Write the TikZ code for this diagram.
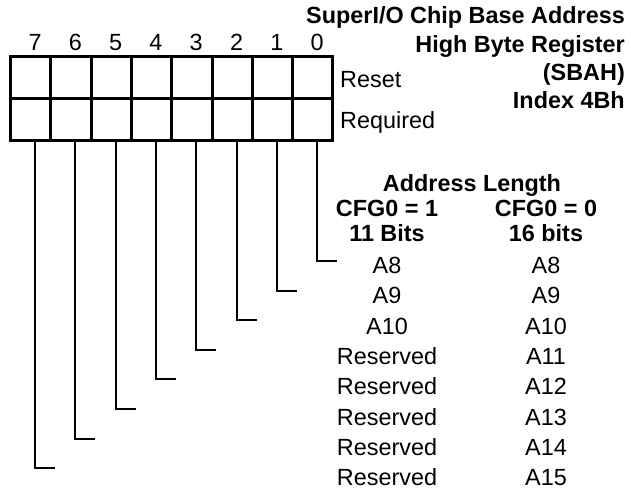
\documentclass[tikz,border=0pt]{standalone}
\usepackage{fontspec}
\setmainfont{Liberation Sans}
\usepackage{tikz}

\begin{document}
\begin{tikzpicture}[x=1pt, y=-1pt,
	every node/.style={font=\fontsize{23.4}{28}\selectfont, inner sep=0},
	head/.style={font=\fontsize{23.4}{28}\selectfont\bfseries},
	cell/.style={draw, line width=3pt, minimum width=40.3pt, minimum height=42pt, outer sep=0},
	lead/.style={line width=2pt}]
	\useasboundingbox (0, 0) rectangle (631, 497);
	\foreach \b in {0,...,7} {
		\pgfmathsetmacro{\cx}{10.5 + (7.5 - \b)*40.3}
		\pgfmathsetmacro{\lx}{\cx + 4.4}
		\node [cell] (r\b) at (\cx, 78) {};
		\node [cell] (q\b) at (\cx, 120) {};
		\node (n\b) at (\lx, 50.7) [anchor=base] {\b};
		\coordinate (f\b) at (\lx + 20, {261 + 29.6*\b});
		\draw [lead] ([xshift=4.4pt]q\b.south) |- (f\b);
	}
	\node (reset) at (340, 88) [anchor=base west] {Reset};
	\node (req) at (340, 128.5) [anchor=base west] {Required};
	\node (t1) at (625, 24) [head, anchor=base east] {SuperI/O Chip Base Address};
	\node (t2) at (625, 52.3) [head, anchor=base east] {High Byte Register};
	\node (t3) at (625, 80.6) [head, anchor=base east] {(SBAH)};
	\node (t4) at (625, 109) [head, anchor=base east] {Index 4Bh};
	\node (len) at (472, 191) [head, anchor=base] {Address Length};
	\node (cfga) at (387, 216) [head, anchor=base] {CFG0 = 1};
	\node (cfgb) at (546, 216) [head, anchor=base] {CFG0 = 0};
	\node (bita) at (387, 241) [head, anchor=base] {11 Bits};
	\node (bitb) at (546, 241) [head, anchor=base] {16 bits};
	\foreach \b/\s/\l in {0/A8/A8, 1/A9/A9, 2/A10/A10, 3/Reserved/A11, 4/Reserved/A12, 5/Reserved/A13, 6/Reserved/A14, 7/Reserved/A15} {
		\node (s\b) at (387, {273.5 + 30.3*\b}) [anchor=base] {\s};
		\node (l\b) at (546, {273.5 + 30.3*\b}) [anchor=base] {\l};
	}
\end{tikzpicture}
\end{document}
